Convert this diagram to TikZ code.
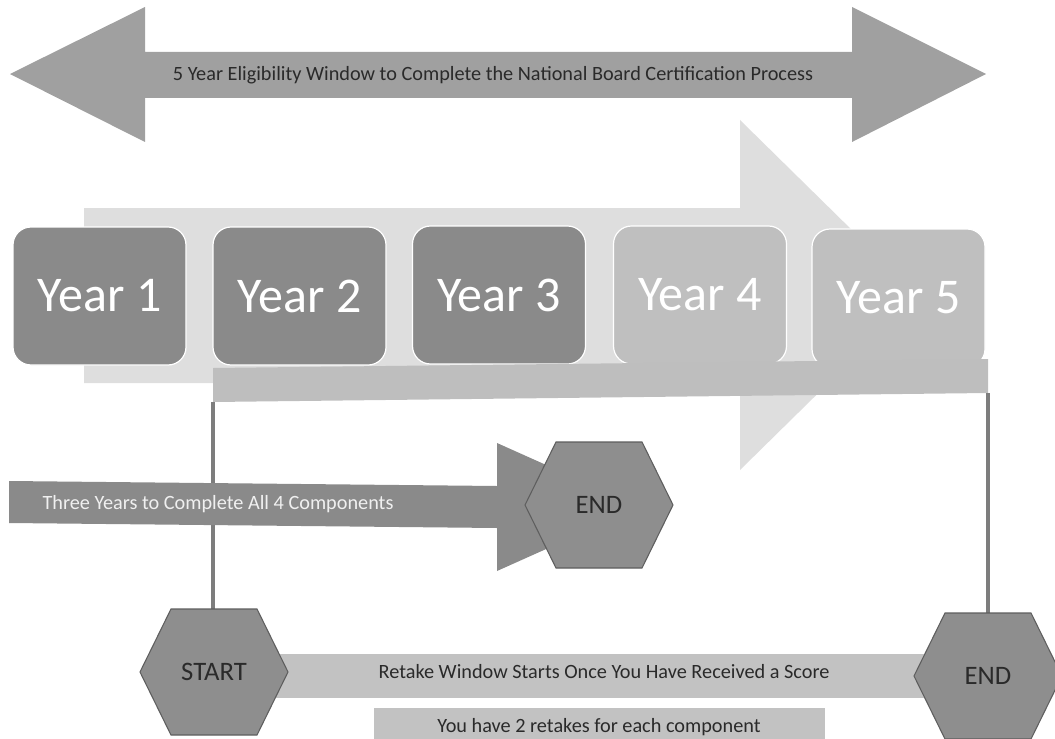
\documentclass[tikz,border=0pt]{standalone}
\usepackage{fontspec}
\setmainfont{Carlito}
\definecolor{topgray}{HTML}{A0A0A0}
\definecolor{paleArrow}{HTML}{DEDEDE}
\definecolor{darkYear}{HTML}{8A8A8A}
\definecolor{lightYear}{HTML}{BFBFBF}
\definecolor{barGray}{HTML}{BEBEBE}
\definecolor{retakeGray}{HTML}{C2C2C2}
\definecolor{hexFill}{HTML}{8E8E8E}
\definecolor{hexLine}{HTML}{5E5E5E}
\definecolor{lineGray}{HTML}{7D7D7D}
\definecolor{arrowDark}{HTML}{8A8A8A}
\definecolor{txtDark}{HTML}{2A2A2A}
\tikzset{
  yearbox/.style={rounded corners=13.5pt, draw=white, line width=0.9pt,
    minimum width=129.75pt, minimum height=103.5pt, inner sep=0pt,
    text=white, font=\fontsize{37.5}{40}\selectfont},
  hexlabel/.style={minimum height=94.5pt, minimum width=10pt, inner sep=0pt,
    text=txtDark, font=\fontsize{20}{22}\selectfont},
  hexshape/.style={fill=hexFill, draw=hexLine, line width=0.8pt},
  smalltxt/.style={inner sep=0pt, text=txtDark, font=\fontsize{15.2}{18}\selectfont},
  vline/.style={draw=lineGray, line width=2.3pt}
}
\newcommand{\hexagonAt}[2]{%
  \path[hexshape] (#1,#2) ++(-74,0) -- ++(31,-63) -- ++(86,0) -- ++(31,63)
    -- ++(-31,63) -- ++(-86,0) -- cycle;}
\begin{document}
\begin{tikzpicture}[x=0.75pt,y=-0.75pt]
\useasboundingbox (0,0) rectangle (1055,738);
% top double arrow
\fill[topgray] (10,74) -- (145,7) -- (145,52) -- (852,52) -- (852,7) -- (986,74)
  -- (852,142) -- (852,98) -- (145,98) -- (145,142) -- cycle;
\node[smalltxt] (window) at (493,75)
  {5 Year Eligibility Window to Complete the National Board Certification Process};
% pale big arrow
\fill[paleArrow] (84,208) -- (740,208) -- (740,120) -- (918,295) -- (740,470)
  -- (740,383) -- (84,383) -- cycle;
% year boxes
\node[yearbox, fill=darkYear] (y1) at (99.5,296) {Year 1};
\node[yearbox, fill=darkYear] (y2) at (299.5,296) {Year 2};
\node[yearbox, fill=darkYear] (y3) at (499,295) {Year 3};
\node[yearbox, fill=lightYear] (y4) at (700,295) {Year 4};
\node[yearbox, fill=lightYear] (y5) at (898.5,298) {Year 5};
% bar under years
\fill[barGray] (213,368) -- (988,359) -- (988,393) -- (213,402) -- cycle;
\coordinate (barL) at (213,402);
\coordinate (barR) at (988,393);
% hexagon labels (nodes)
\node[hexlabel] (start) at (214,672) {};
\node[hexlabel] (endR) at (988,676) {};
\node[hexlabel] (endM) at (599,505) {};
% vertical connectors
\draw[vline] (barL) -- (barL |- start.north);
\draw[vline] (barR) -- (barR |- endR.north);
% three years arrow
\fill[arrowDark] (9,481) -- (497,486) -- (497,443) -- (640,507) -- (497,571)
  -- (497,528) -- (9,523) -- cycle;
\node[smalltxt, text=white!94!black] (three) at (218,504)
  {Three Years to Complete All 4 Components};
% middle END hexagon
\hexagonAt{599}{505}
\node[hexlabel] at (endM) {END};
% retake bar
\fill[retakeGray] (270,654) rectangle (930,698);
\node[smalltxt] (retake) at (604,672) {Retake Window Starts Once You Have Received a Score};
\fill[retakeGray] (374,708) rectangle (825,745);
\node[smalltxt] (twice) at (599,727) {You have 2 retakes for each component};
% start / end hexagons
\hexagonAt{214}{672}
\node[hexlabel] at (start) {START};
\hexagonAt{988}{676}
\node[hexlabel] at (endR) {END};
\end{tikzpicture}
\end{document}
